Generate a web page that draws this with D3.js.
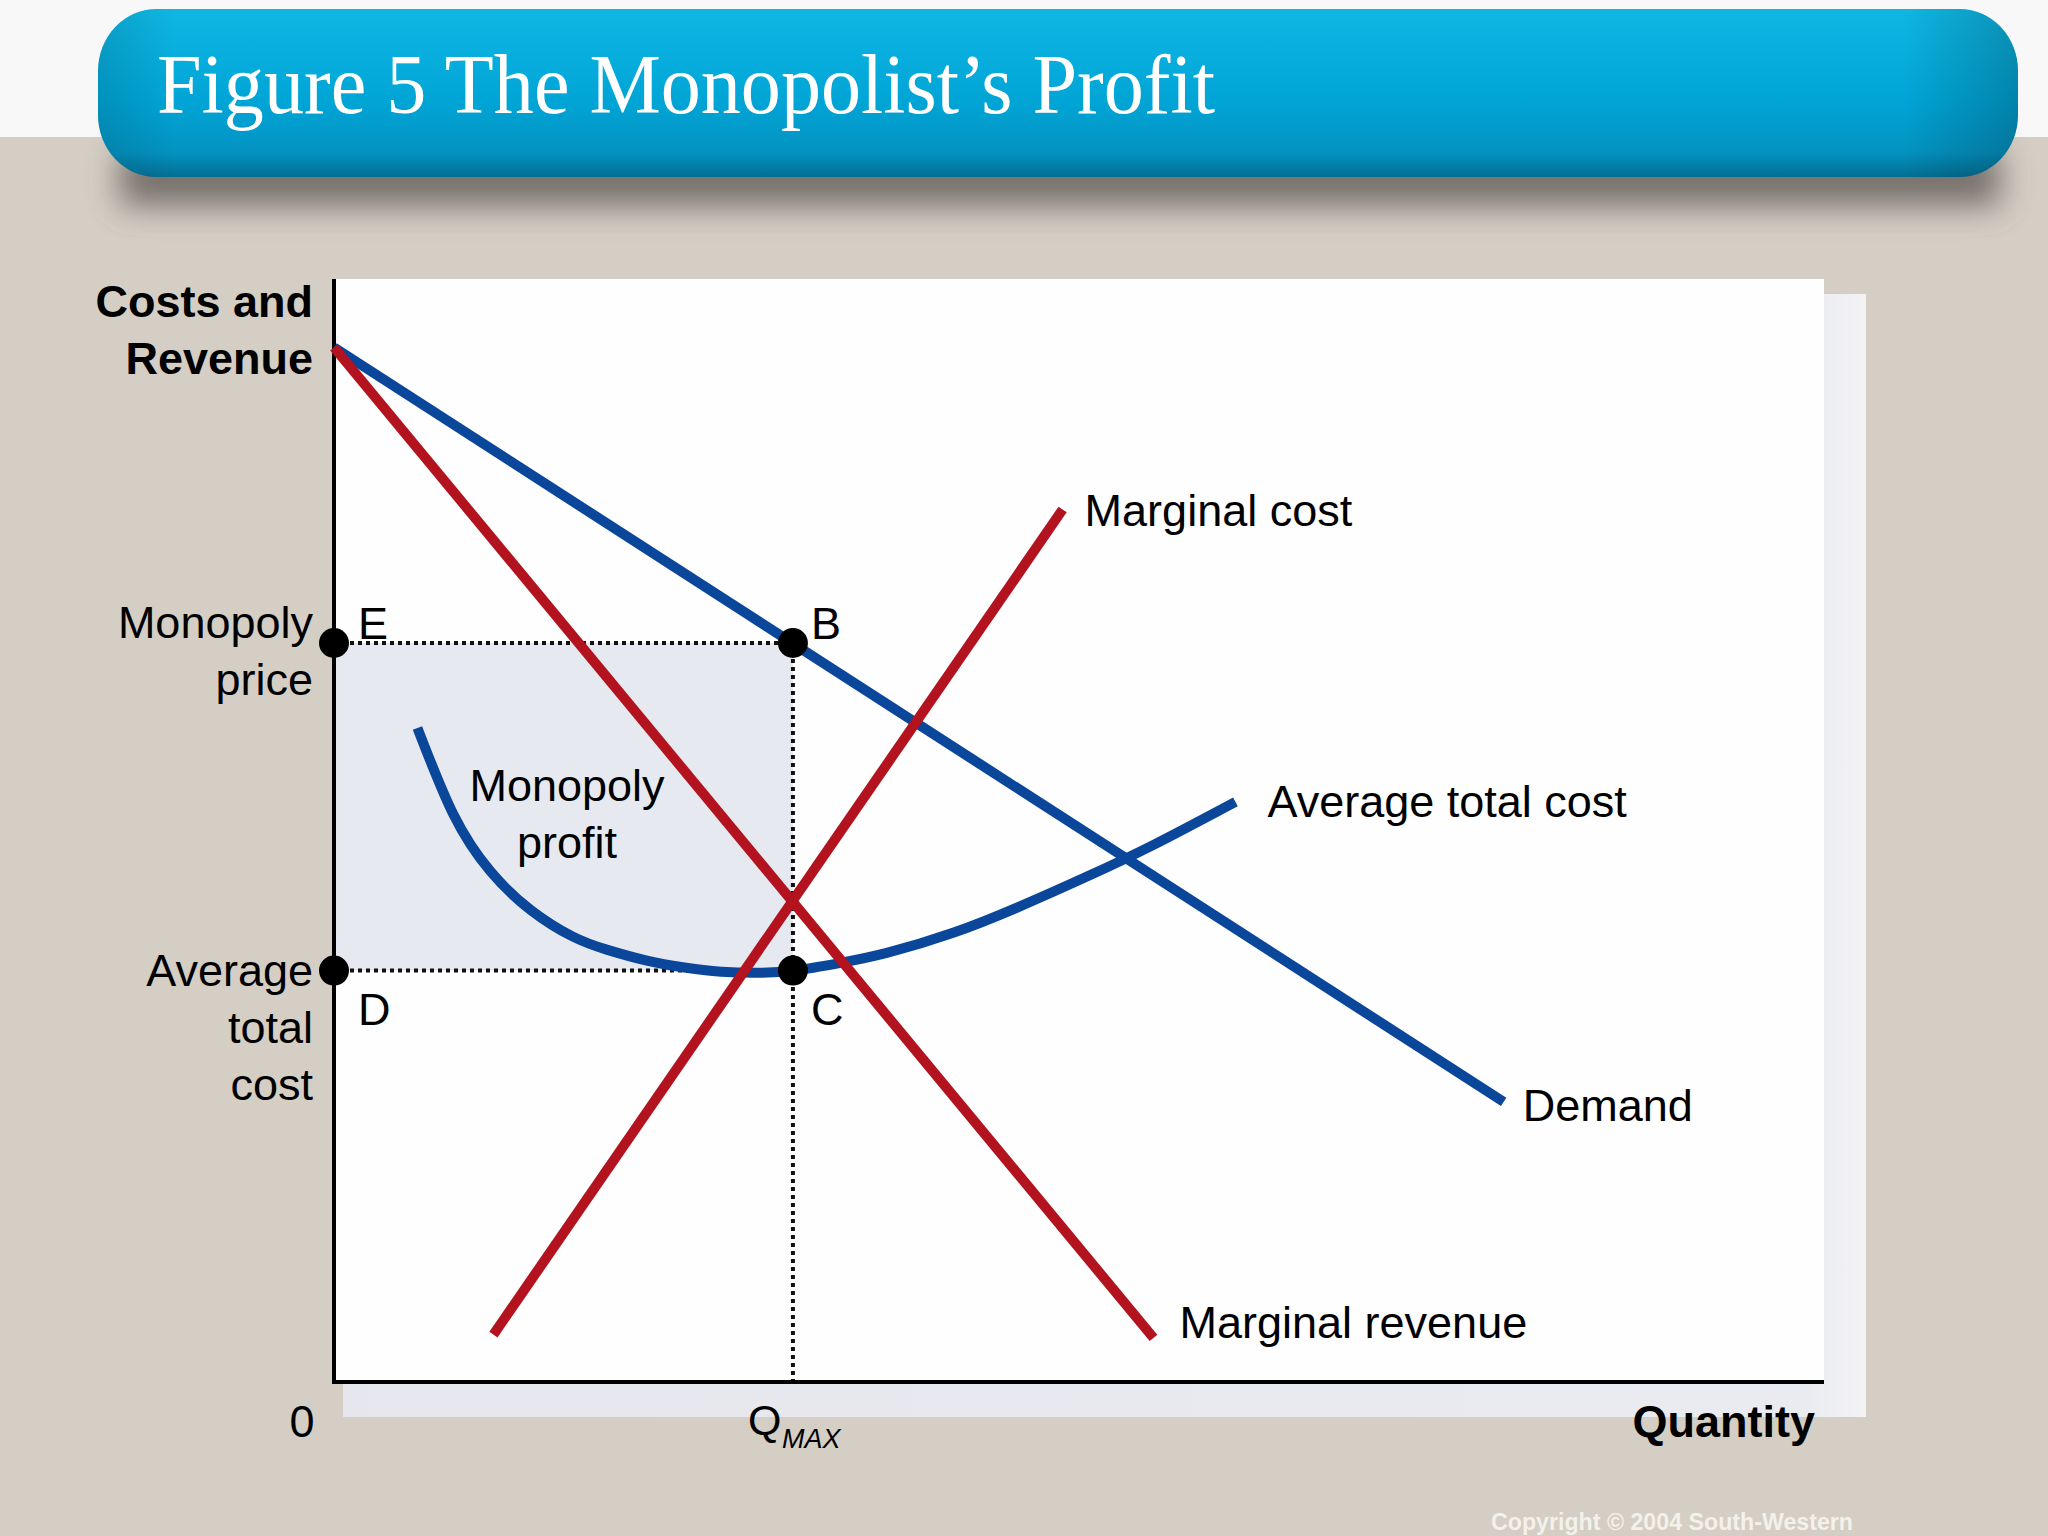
<!DOCTYPE html>
<html>
<head>
<meta charset="utf-8">
<script src="https://cdn.jsdelivr.net/npm/d3@7"></script>
<style>
  body { margin: 0; background: #d4cec4; }
  svg text { font-family: "Liberation Sans", Arial, sans-serif; }
</style>
</head>
<body>
<div id="chart"></div>
<script>
//////// DATA ////////
var demandQ = [0, 7.85],
    demandP = [9.38, 2.54];

var mrQ = [0, 5.50],
    mrP = [9.38, 0.40];

var mcQ = [1.07, 4.89],
    mcP = [0.43, 7.91];

var atcQ = [0.56, 0.80, 1.05, 1.32, 1.60, 1.83, 2.10, 2.34, 2.60, 2.85, 3.09, 3.40, 3.71, 4.15, 4.60, 5.05, 5.50, 6.05],
    atcC = [5.93, 5.15, 4.63, 4.28, 4.04, 3.92, 3.82, 3.76, 3.72, 3.71, 3.73, 3.80, 3.89, 4.07, 4.31, 4.58, 4.87, 5.26];

var qMax = 3.08,
    monopolyPrice = 6.70,
    atcAtQ = 3.73;

var pointNames = ["E", "B", "D", "C"];
var curveNames = ["Demand", "Marginal revenue", "Marginal cost", "Average total cost"];

//////// CANVAS ////////
var W = 2048, H = 1536;
var blue = "#0a469a", red = "#b3131e";

var svg = d3.select("#chart").append("svg")
    .attr("width", W)
    .attr("height", H);

var defs = svg.append("defs");

var bannerGrad = defs.append("linearGradient")
    .attr("id", "bannerGrad").attr("x1", 0).attr("y1", 0).attr("x2", 0).attr("y2", 1);
bannerGrad.append("stop").attr("offset", "0%").attr("stop-color", "#0fb6e3");
bannerGrad.append("stop").attr("offset", "55%").attr("stop-color", "#00a5d6");
bannerGrad.append("stop").attr("offset", "85%").attr("stop-color", "#0393c2");
bannerGrad.append("stop").attr("offset", "100%").attr("stop-color", "#036f94");

var bannerSide = defs.append("linearGradient")
    .attr("id", "bannerSide").attr("x1", 0).attr("y1", 0).attr("x2", 1).attr("y2", 0);
bannerSide.append("stop").attr("offset", "0%").attr("stop-color", "#000").attr("stop-opacity", 0.12);
bannerSide.append("stop").attr("offset", "4%").attr("stop-color", "#000").attr("stop-opacity", 0);
bannerSide.append("stop").attr("offset", "94%").attr("stop-color", "#000").attr("stop-opacity", 0);
bannerSide.append("stop").attr("offset", "100%").attr("stop-color", "#000").attr("stop-opacity", 0.2);

var panelGrad = defs.append("linearGradient")
    .attr("id", "panelGrad").attr("x1", 0).attr("y1", 0).attr("x2", 1).attr("y2", 0);
panelGrad.append("stop").attr("offset", "0%").attr("stop-color", "#e6e7ee");
panelGrad.append("stop").attr("offset", "96%").attr("stop-color", "#eaebf0");
panelGrad.append("stop").attr("offset", "100%").attr("stop-color", "#f3f3f6");

defs.append("filter").attr("id", "blur")
    .attr("x", "-20%").attr("y", "-100%").attr("width", "140%").attr("height", "300%")
  .append("feGaussianBlur").attr("stdDeviation", 16);

//////// BACKGROUND AND TITLE ////////
svg.append("rect").attr("width", W).attr("height", 137).attr("fill", "#f8f8f8");
svg.append("rect").attr("y", 137).attr("width", W).attr("height", H - 137).attr("fill", "#d4cec4");

svg.append("rect")
    .attr("x", 120).attr("y", 150).attr("width", 1880).attr("height", 56)
    .attr("fill", "#5e5954").attr("opacity", 0.8)
    .attr("filter", "url(#blur)");

svg.append("rect")
    .attr("x", 98).attr("y", 9).attr("width", 1920).attr("height", 168)
    .attr("rx", 58).attr("ry", 62)
    .attr("fill", "url(#bannerGrad)");
svg.append("rect")
    .attr("x", 98).attr("y", 9).attr("width", 1920).attr("height", 168)
    .attr("rx", 58).attr("ry", 62)
    .attr("fill", "url(#bannerSide)");

svg.append("text")
    .attr("x", 157).attr("y", 113)
    .style("font-family", "'Liberation Serif', 'Times New Roman', serif")
    .attr("font-size", 84)
    .attr("fill", "#fff")
    .attr("textLength", 1058)
    .attr("lengthAdjust", "spacingAndGlyphs")
    .text("Figure 5 The Monopolist\u2019s Profit");

//////// SCALES ////////
var xScale = d3.scaleLinear().domain([0, 10]).range([334, 1824]);
var yScale = d3.scaleLinear().domain([0, 10]).range([1382, 279]);

// panel + its soft backing
svg.append("rect")
    .attr("x", 343).attr("y", 294).attr("width", 1523).attr("height", 1123)
    .attr("fill", "url(#panelGrad)");
svg.append("rect")
    .attr("x", xScale(0)).attr("y", yScale(10))
    .attr("width", xScale(10) - xScale(0)).attr("height", yScale(0) - yScale(10))
    .attr("fill", "#fefefe");

var g = svg.append("g");

// profit rectangle
g.append("rect")
    .attr("x", xScale(0)).attr("y", yScale(monopolyPrice))
    .attr("width", xScale(qMax) - xScale(0))
    .attr("height", yScale(atcAtQ) - yScale(monopolyPrice))
    .attr("fill", "#e6e9ef");

// dotted guides
var dotted = [
    [[0, monopolyPrice], [qMax, monopolyPrice]],
    [[0, atcAtQ], [qMax, atcAtQ]],
    [[qMax, monopolyPrice], [qMax, 0]]
];
g.selectAll(".guide")
    .data(dotted)
    .enter().append("line")
        .attr("class", "guide")
        .attr("x1", function(d) { return xScale(d[0][0]); })
        .attr("y1", function(d) { return yScale(d[0][1]); })
        .attr("x2", function(d) { return xScale(d[1][0]); })
        .attr("y2", function(d) { return yScale(d[1][1]); })
        .attr("stroke", "#111")
        .attr("stroke-width", 4)
        .attr("stroke-dasharray", "4,4");

// axes
g.append("line")
    .attr("x1", xScale(0)).attr("y1", yScale(10))
    .attr("x2", xScale(0)).attr("y2", yScale(0))
    .attr("stroke", "#000").attr("stroke-width", 4);
g.append("line")
    .attr("x1", xScale(0) - 2).attr("y1", yScale(0))
    .attr("x2", xScale(10)).attr("y2", yScale(0))
    .attr("stroke", "#000").attr("stroke-width", 4);

//////// CURVES ////////
var line = d3.line()
    .x(function(d) { return xScale(d[0]); })
    .y(function(d) { return yScale(d[1]); });

var atcLine = d3.line()
    .curve(d3.curveNatural)
    .x(function(d) { return xScale(d[0]); })
    .y(function(d) { return yScale(d[1]); });

var curves = [
    {name: curveNames[0], pts: d3.zip(demandQ, demandP), color: blue, gen: line, dx: 19, dy: 19},
    {name: curveNames[3], pts: d3.zip(atcQ, atcC), color: blue, gen: atcLine, dx: 32, dy: 15},
    {name: curveNames[1], pts: d3.zip(mrQ, mrP), color: red, gen: line, dx: 26, dy: 0},
    {name: curveNames[2], pts: d3.zip(mcQ, mcP), color: red, gen: line, dx: 22, dy: 16}
];

g.selectAll(".curve")
    .data(curves)
    .enter().append("path")
        .attr("class", "curve")
        .attr("d", function(d) { return d.gen(d.pts); })
        .attr("fill", "none")
        .attr("stroke", function(d) { return d.color; })
        .attr("stroke-width", 10);

g.selectAll(".curveLabel")
    .data(curves)
    .enter().append("text")
        .attr("class", "curveLabel")
        .attr("x", function(d) { var p = d.pts[d.pts.length - 1]; return xScale(p[0]) + d.dx; })
        .attr("y", function(d) { var p = d.pts[d.pts.length - 1]; return yScale(p[1]) + d.dy; })
        .attr("font-size", 45)
        .text(function(d) { return d.name; });

//////// POINTS ////////
var points = [
    {name: pointNames[0], q: 0, p: monopolyPrice, dx: 24, dy: -4},
    {name: pointNames[1], q: qMax, p: monopolyPrice, dx: 18, dy: -4},
    {name: pointNames[2], q: 0, p: atcAtQ, dx: 24, dy: 54},
    {name: pointNames[3], q: qMax, p: atcAtQ, dx: 18, dy: 54}
];

g.selectAll(".pt")
    .data(points)
    .enter().append("circle")
        .attr("class", "pt")
        .attr("cx", function(d) { return xScale(d.q); })
        .attr("cy", function(d) { return yScale(d.p); })
        .attr("r", 15)
        .attr("fill", "#000");

g.selectAll(".ptLabel")
    .data(points)
    .enter().append("text")
        .attr("class", "ptLabel")
        .attr("x", function(d) { return xScale(d.q) + d.dx; })
        .attr("y", function(d) { return yScale(d.p) + d.dy; })
        .attr("font-size", 45)
        .text(function(d) { return d.name; });

// profit label
g.append("text")
    .attr("x", 567).attr("y", 801)
    .attr("text-anchor", "middle")
    .attr("font-size", 45)
    .selectAll("tspan")
    .data(["Monopoly", "profit"])
    .enter().append("tspan")
        .attr("x", 567)
        .attr("dy", function(d, i) { return i ? 57 : 0; })
        .text(function(d) { return d; });

//////// AXIS LABELS ////////
function stack(lines, y0, bold) {
    var t = svg.append("text")
        .attr("text-anchor", "end")
        .attr("font-size", 45)
        .attr("font-weight", bold ? "bold" : "normal");
    t.selectAll("tspan")
        .data(lines)
        .enter().append("tspan")
            .attr("x", 313)
            .attr("y", function(d, i) { return y0 + i * 57; })
            .text(function(d) { return d; });
}
stack(["Costs and", "Revenue"], 317, true);
stack(["Monopoly", "price"], yScale(monopolyPrice) - 5, false);
stack(["Average", "total", "cost"], yScale(atcAtQ) + 15, false);

svg.append("text")
    .attr("x", 302).attr("y", 1437)
    .attr("text-anchor", "middle")
    .attr("font-size", 45)
    .text("0");

svg.append("text")
    .attr("x", xScale(qMax) - 45).attr("y", 1435)
    .attr("font-size", 43)
    .text("Q");
svg.append("text")
    .attr("x", xScale(qMax) - 11).attr("y", 1448)
    .attr("font-size", 27)
    .attr("font-style", "italic")
    .text("MAX");

svg.append("text")
    .attr("x", 1815).attr("y", 1437)
    .attr("text-anchor", "end")
    .attr("font-size", 45)
    .attr("font-weight", "bold")
    .text("Quantity");

svg.append("text")
    .attr("x", 1491).attr("y", 1530)
    .attr("font-size", 24)
    .attr("font-weight", "bold")
    .attr("fill", "#f4f1ea")
    .attr("textLength", 362)
    .attr("lengthAdjust", "spacingAndGlyphs")
    .text("Copyright \u00a9 2004  South-Western");
</script>
</body>
</html>
